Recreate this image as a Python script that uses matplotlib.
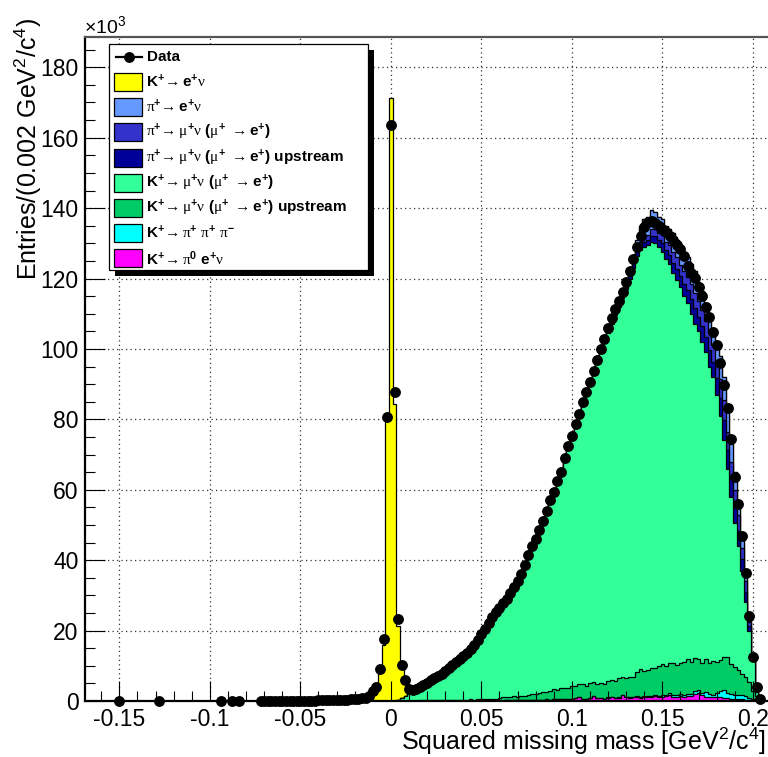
import numpy as np
import matplotlib
matplotlib.use('Agg')
import matplotlib.pyplot as plt
from matplotlib.patches import Rectangle
from matplotlib.lines import Line2D

plt.rcParams['font.family'] = ['Liberation Sans', 'DejaVu Sans']
plt.rcParams['mathtext.fontset'] = 'custom'
plt.rcParams['mathtext.rm'] = 'Liberation Sans'
plt.rcParams['mathtext.it'] = 'Liberation Sans:italic'
plt.rcParams['mathtext.bf'] = 'Liberation Sans:bold'
plt.rcParams['mathtext.sf'] = 'Liberation Serif'

BW = 0.002  # bin width

# ---------------- data (x10^3 entries) ----------------
data_iso_x = [-0.150, -0.128, -0.094, -0.088, -0.084]
data_iso_y = [0.05, 0.05, 0.05, 0.05, 0.05]
data_start = -0.072
data_vals = [
    0.05, 0.05, 0.05, 0.06, 0.06, 0.07, 0.07, 0.08, 0.08, 0.09, 0.10, 0.10, 0.11, 0.12,
    0.13, 0.14, 0.15, 0.17, 0.18, 0.20, 0.22, 0.25, 0.28, 0.32, 0.37, 0.43, 0.50, 0.60, 0.75,
    0.9, 1.5, 2.8, 4.0, 9.1, 17.5, 80.6, 163.6, 87.9, 23.3, 10.2, 6.0, 3.5, 3.0,
    3.3, 3.9, 4.5, 5.2, 5.9, 6.5, 7.1, 7.7, 8.4, 9.3, 10.2, 11.1, 12.0, 12.9,
    13.7, 14.8, 16.0, 17.4, 18.9, 20.5, 22.2, 23.8, 25.3, 26.5, 27.7, 29.0, 30.6, 32.3, 34.0,
    36.2, 38.5, 41.5, 44.0, 46.0, 48.5, 51.0, 54.0, 57.0, 59.5, 62.5, 65.0, 69.0, 72.5, 75.3,
    78.7, 81.5, 85.0, 87.8, 90.6, 93.6, 96.8, 99.9, 102.7, 106.0, 108.7, 111.3, 113.6, 116.3, 119.0,
    122.0, 125.5, 129.0, 132.0, 134.7, 136.0, 136.4, 135.7, 134.8, 134.0, 133.2, 132.2, 131.0, 129.5, 128.3,
    126.3, 123.6, 121.5, 120.2, 117.7, 115.0, 112.0, 109.0, 104.9, 101.1, 96.1, 89.8, 83.1, 74.3, 63.5,
    56.0, 46.9, 36.3, 24.1, 12.4, 4.1, 0.5]

# ---------------- MC components (x10^3 entries) ----------------
k_enu_start = -0.012
k_enu = [0.0, 2.0, 3.8, 8.5, 15.8, 79.5, 171.3, 84.5, 21.0, 8.5, 4.0, 1.5, 0.5]

pi_start = 0.120
pi_enu = [0.8, 0.9, 0.9, 1.0, 1.0, 1.0, 1.0, 1.5, 2.5, 4.5, 5.0, 5.0, 5.5, 5.0, 4.5, 4.5,
          4.5, 4.5, 5.5, 5.0, 5.2, 5.5, 5.5, 5.5, 6.0, 5.5, 5.5, 5.0, 5.5, 5.0, 5.5, 6.5,
          6.5, 5.5, 5.0, 5.0, 4.3, 3.5, 3.0, 1.5, 0.2, 0.2, 0.0]
pi_munu = [0.6, 0.7, 0.7, 0.8, 0.8, 0.8, 0.8, 1.0, 1.0, 1.3, 1.5, 1.5, 1.8, 2.0, 2.0, 2.5,
           2.5, 2.8, 3.0, 3.3, 3.2, 3.6, 3.9, 4.3, 4.5, 4.5, 4.5, 4.7, 4.7, 4.6, 4.7, 5.3,
           5.8, 5.2, 4.9, 4.7, 4.3, 3.2, 3.0, 1.2, 0.1, 0.1, 0.0]
pi_munu_up = [0.6, 0.6, 0.7, 0.7, 0.7, 0.7, 0.7, 1.0, 1.0, 1.2, 1.5, 1.5, 1.7, 2.0, 2.0, 2.5,
              2.5, 2.7, 3.0, 3.2, 3.1, 3.4, 3.6, 4.2, 4.5, 4.0, 4.5, 4.3, 4.8, 4.4, 4.8, 5.2,
              5.7, 5.3, 5.1, 4.8, 4.4, 3.3, 3.0, 1.3, 0.2, 0.2, 0.0]

k_munu_start = 0.004
k_munu = [0.2, 0.8, 1.5, 2.0, 2.4, 3.2, 3.7, 4.3, 5.0, 5.7, 6.2, 6.9, 7.4, 8.1, 9.0, 9.8, 10.8, 11.6, 12.5,
          13.3, 14.3, 15.6, 16.9, 18.3, 20.0, 21.6, 23.1, 24.7, 25.6, 26.7, 28.0, 29.5, 31.0, 32.8,
          34.7, 37.2, 39.8, 42.1, 44.1, 46.3, 48.4, 51.5, 54.3, 56.2, 59.4, 61.4, 65.2, 68.7, 71.0,
          74.4, 76.7, 80.2, 83.4, 85.6, 88.2, 91.9, 94.7, 97.9,
          98.9, 100.9, 103.9, 105.4, 107.7, 110.4, 113.3, 116.3, 118.3, 119.0, 120.5, 120.6, 121.1,
          120.7, 119.2, 117.1, 115.5, 113.1, 110.6, 109.2, 106.7, 103.9, 101.1, 98.8, 94.8, 93.0,
          91.2, 87.2, 84.2, 80.6, 75.9, 69.4, 61.6, 53.4, 47.4, 40.9, 35.1, 29.4, 21.2, 14.5,
          10.1, 1.2, 0.0]

k_munu_up_start = 0.010
k_munu_up = [0.1, 0.1, 0.1, 0.2, 0.2, 0.2, 0.2, 0.3, 0.2, 0.3, 0.3, 0.3, 0.4, 0.3, 0.4, 0.4,
             0.4, 0.5, 0.4, 0.5, 0.6, 0.5, 0.6, 0.7, 0.6, 0.8, 0.9, 0.8, 1.0, 1.1, 1.0,
             1.2, 1.1, 1.4, 1.6, 1.5, 1.9, 2.2, 2.0, 2.3, 2.8, 2.6, 3.0, 3.3, 3.1, 3.7,
             3.5, 3.6, 4.1, 3.8, 4.2, 3.9, 4.0, 4.4, 4.1, 4.6, 5.0, 4.7, 5.5, 5.1, 5.4,
             5.6, 5.5, 6.8, 7.9, 7.2, 7.4, 8.1, 7.6, 8.4, 8.8, 8.2, 8.6, 9.3, 8.7, 8.9,
             9.4, 9.8, 9.1, 9.5, 9.0, 8.4, 9.2, 8.8, 9.6, 8.9, 8.8, 9.3, 10.2, 8.7, 8.0,
             7.1, 6.0, 5.5, 4.6, 2.3, 1.0, 0.2]

k_3pi_start = 0.120
k_3pi = [0.1, 0.1, 0.1, 0.2, 0.1, 0.2, 0.2, 0.2, 0.3, 0.2, 0.3, 0.3, 0.3, 0.4, 0.3, 0.4,
         0.4, 0.5, 0.4, 0.5, 0.6, 0.5, 0.6, 0.8, 0.7, 0.6, 0.8, 1.4, 0.9, 0.8, 1.0, 1.8,
         2.2, 1.6, 1.2, 1.0, 1.3, 1.1, 0.9, 0.6, 0.4, 0.2, 0.1]

k_pi0enu_start = 0.060
k_pi0enu = [0.1, 0.1, 0.2, 0.1, 0.2, 0.2, 0.3, 0.2, 0.3, 0.3, 0.4, 0.3, 0.4, 0.5, 0.4, 0.5,
            0.5, 0.6, 0.5, 0.7, 0.6, 0.8, 1.2, 0.7, 0.6, 0.8, 1.5, 0.9, 0.8, 0.7, 0.9, 1.0,
            0.8, 0.9, 1.6, 1.0, 0.9, 1.0, 1.1, 0.9, 1.0, 1.2, 1.0, 1.3, 1.1, 1.2, 1.4, 1.8,
            1.2, 1.1, 1.3, 1.2, 1.5, 1.3, 2.0, 2.4, 1.6, 1.2, 1.1, 1.0, 1.2, 1.0, 0.9, 0.8,
            0.7, 0.6, 0.5, 0.5, 0.4, 0.3, 0.2, 0.1, 0.0]

MU = r"\mathsf{\mu}^{\mathbf{+}}"
PI = r"\mathsf{\pi}"
NU = r"\mathsf{\nu}"
legend_labels = [
    "Data",
    r"$\mathbf{K^{+}}\!\rightarrow \mathbf{e^{+}}" + NU + "$",
    "$" + PI + r"^{\mathbf{+}}\!\rightarrow \mathbf{e^{+}}" + NU + "$",
    "$" + PI + r"^{\mathbf{+}}\!\rightarrow " + MU + NU + r"\ \mathbf{(}" + MU + r"\ \rightarrow \mathbf{e^{+})}$",
    "$" + PI + r"^{\mathbf{+}}\!\rightarrow " + MU + NU + r"\ \mathbf{(}" + MU + r"\ \rightarrow \mathbf{e^{+})}$ upstream",
    r"$\mathbf{K^{+}}\!\rightarrow " + MU + NU + r"\ \mathbf{(}" + MU + r"\ \rightarrow \mathbf{e^{+})}$",
    r"$\mathbf{K^{+}}\!\rightarrow " + MU + NU + r"\ \mathbf{(}" + MU + r"\ \rightarrow \mathbf{e^{+})}$ upstream",
    r"$\mathbf{K^{+}}\!\rightarrow " + PI + r"^{\mathbf{+}}\ " + PI + r"^{\mathbf{+}}\ " + PI + r"^{\mathbf{-}}$",
    r"$\mathbf{K^{+}}\!\rightarrow " + PI + r"^{\mathbf{0}}\ \mathbf{e^{+}}" + NU + "$",
]

colors = {
    'k_enu': '#ffff00', 'pi_enu': '#6699ff', 'pi_munu': '#3333cc', 'pi_munu_up': '#000099',
    'k_munu': '#33ff99', 'k_munu_up': '#00cc66', 'k_3pi': '#00ffff', 'k_pi0enu': '#ff00ff',
}

xticks = [-0.15, -0.1, -0.05, 0.0, 0.05, 0.1, 0.15, 0.2]
xticklabels = ["-0.15", "-0.1", "-0.05", "0", "0.05", "0.1", "0.15", "0.2"]
yticks = [0, 20, 40, 60, 80, 100, 120, 140, 160, 180]

# ---------------- figure ----------------
W, H = 768, 757
fig = plt.figure(figsize=(W / 100, H / 100), dpi=100)
ax = fig.add_axes([85 / W, 1 - 701 / H, (771 - 85) / W, (701 - 37) / H])
XMIN, XMAX, YMAX = -0.169, 0.21, 188.6

x_lo, nb = -0.012, 109
edges = np.round(np.linspace(x_lo - BW / 2, x_lo - BW / 2 + nb * BW, nb + 1), 5)


def place(vals, start):
    arr = np.zeros(nb)
    i0 = int(round((start - x_lo) / BW))
    arr[i0:i0 + len(vals)] = vals
    return arr


stack = [  # bottom -> top
    (place(k_pi0enu, k_pi0enu_start), colors['k_pi0enu']),
    (place(k_3pi, k_3pi_start), colors['k_3pi']),
    (place(k_munu_up, k_munu_up_start), colors['k_munu_up']),
    (place(k_munu, k_munu_start), colors['k_munu']),
    (place(pi_munu_up, pi_start), colors['pi_munu_up']),
    (place(pi_munu, pi_start), colors['pi_munu']),
    (place(pi_enu, pi_start), colors['pi_enu']),
    (place(k_enu, k_enu_start), colors['k_enu']),
]
cum = np.cumsum([s[0] for s in stack], axis=0)
for i in range(len(stack) - 1, -1, -1):
    ax.stairs(cum[i], edges, baseline=0, fill=True, facecolor=stack[i][1],
              edgecolor='black', linewidth=0.9, zorder=1)

# grid (below fills)
gls = (0, (1, 2.6))
for xv in xticks:
    ax.plot([xv, xv], [0, YMAX], ls=gls, color='#333333', lw=0.9, zorder=0.5)
for yv in yticks[1:]:
    ax.plot([XMIN, XMAX], [yv, yv], ls=gls, color='#333333', lw=0.9, zorder=0.5)

# data points
dx = np.round(data_start + BW * np.arange(len(data_vals)), 4)
ax.plot(data_iso_x, data_iso_y, 'o', color='black', ms=6.8, zorder=3, clip_on=False)
ax.plot(dx, data_vals, 'o', color='black', ms=6.8, zorder=3, clip_on=False)

ax.set_xlim(XMIN, XMAX)
ax.set_ylim(0, YMAX)
ax.set_xticks(xticks)
ax.set_xticklabels(xticklabels)
ax.set_xticks(np.round(np.arange(-0.16, 0.2101, 0.01), 3), minor=True)
ax.set_yticks(yticks)
ax.set_yticklabels([str(v) for v in yticks])
ax.set_yticks(np.arange(0, 186, 5), minor=True)
ax.tick_params(which='both', direction='in', width=0.8, color='black', labelsize=16.5)
ax.tick_params(which='major', length=14.4)
ax.tick_params(which='minor', length=7.2)
ax.tick_params(axis='x', pad=5.0)
ax.tick_params(axis='y', pad=4.5)
for s in ['left', 'bottom']:
    ax.spines[s].set_linewidth(1.6)
ax.spines['top'].set_linewidth(1.6)
ax.spines['top'].set_color('#555555')
ax.spines['right'].set_visible(False)

fig.text(28 / W, 1 - 18 / H, r"Entries/(0.002 GeV$^{2}$/c$^{4}$)", rotation=90,
         ha='center', va='top', fontsize=18)
fig.text(766 / W, 1 - 750 / H, r"Squared missing mass [GeV$^{2}$/c$^{4}$]",
         ha='right', va='baseline', fontsize=18)
fig.text(84 / W, 1 - 33 / H, r"$\times$10$^{3}$", ha='left', va='baseline', fontsize=14)

# ---------------- legend (pixel coordinates) ----------------
lg = fig.add_axes([0, 0, 1, 1], zorder=5)
lg.set_xlim(0, W)
lg.set_ylim(H, 0)
lg.axis('off')
bx, by, bw, bh = 109, 44, 259, 226
lg.add_patch(Rectangle((bx + 6, by + 6), bw, bh, facecolor='black', edgecolor='none'))
lg.add_patch(Rectangle((bx, by), bw, bh, facecolor='white', edgecolor='black', lw=0.9))
leg_colors = [None, colors['k_enu'], colors['pi_enu'], colors['pi_munu'], colors['pi_munu_up'],
              colors['k_munu'], colors['k_munu_up'], colors['k_3pi'], colors['k_pi0enu']]
for i, (lab, col) in enumerate(zip(legend_labels, leg_colors)):
    yc = 56.7 + i * 25.2
    if col is None:
        lg.add_line(Line2D([116, 142], [yc, yc], color='black', lw=1.6))
        lg.plot([129], [yc], 'o', color='black', ms=6.8)
    else:
        lg.add_patch(Rectangle((114, yc - 9), 28, 18, facecolor=col, edgecolor='black', lw=0.9))
    lg.text(146.5, yc, lab, ha='left', va='center', fontsize=11, fontweight='bold')

fig.savefig('out.png', dpi=100)
